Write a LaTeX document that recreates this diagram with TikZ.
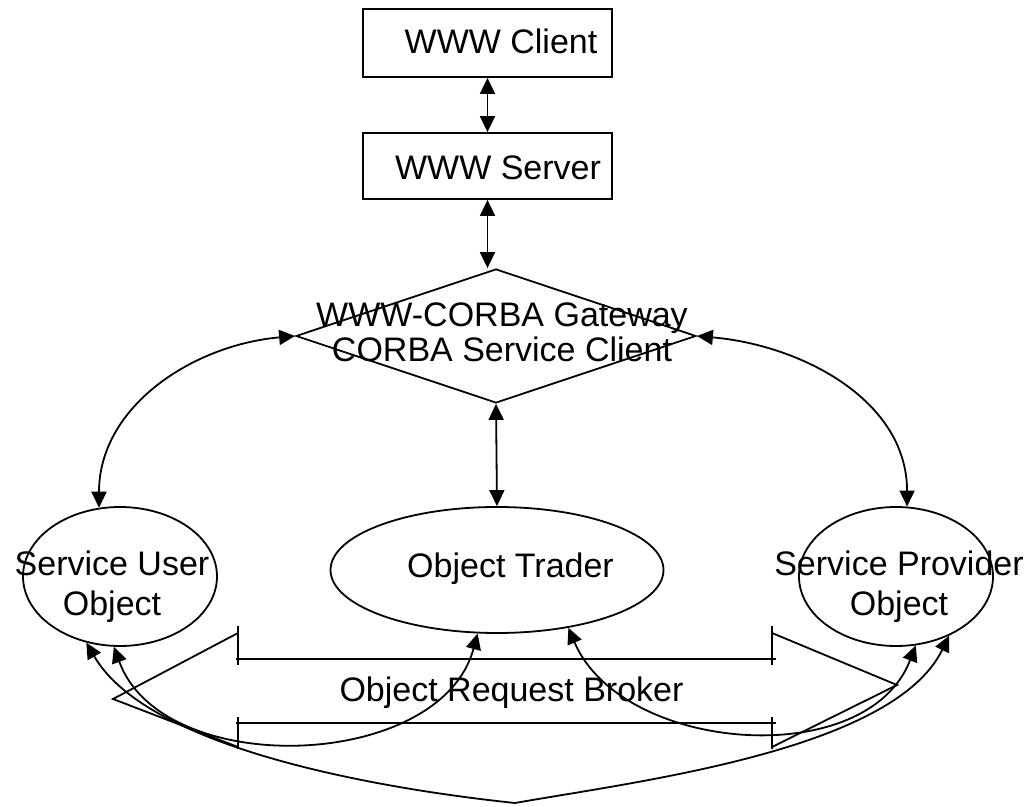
\documentclass[tikz,border=0pt]{standalone}
\usepackage{fontspec}
\setmainfont{Liberation Sans}
\usetikzlibrary{arrows.meta,shapes.geometric}
\begin{document}
\begin{tikzpicture}[x=1pt,y=1pt,line width=1.8pt,
  box/.style={draw, rectangle, minimum width=249pt, inner sep=0pt},
  ell/.style={draw, ellipse, inner sep=0pt},
  gwshape/.style={draw, diamond, minimum width=400pt, minimum height=134pt, inner sep=0pt},
  lbl/.style={font=\fontsize{34}{40}\selectfont, inner sep=0pt, anchor=base, align=center},
  biarrow/.style={{Triangle[length=16pt,width=15pt]}-{Triangle[length=16pt,width=15pt]}},
]
\useasboundingbox (0,0) rectangle (1028,806);
% shapes
\node[box, minimum height=68pt] (wc) at (487.5,763) {};
\node[box, minimum height=66pt] (ws) at (487.5,640) {};
\node[gwshape] (gw) at (496,470) {};
\node[ell, minimum width=333pt, minimum height=126pt] (ot) at (497,236) {};
\node[ell, minimum width=194pt, minimum height=139pt] (su) at (120,229.5) {};
\node[ell, minimum width=194pt, minimum height=139pt] (sp) at (896,229.5) {};
% texts (base anchor = baseline of last line)
\node[lbl] (wct) at (501,752) {WWW Client};
\node[lbl] (wst) at (498,626) {WWW Server};
\node[lbl, font=\fontsize{34}{35}\selectfont] (gwt) at (502,444) {WWW-CORBA Gateway\\CORBA Service Client};
\node[lbl] (ott) at (510.5,228) {Object Trader};
\node[lbl] (sut) at (112,190) {Service User\\Object};
\node[lbl] (spt) at (899,190) {Service Provider\\Object};
\node[lbl] (orbt) at (511.5,104) {Object Request Broker};
% ORB block arrow outline
\draw (236,147) -- (776,147);
\draw (236,83) -- (776,83);
\draw (238,180) -- (238,141);
\draw (238,89) -- (238,57);
\draw (772,180) -- (772,141);
\draw (772,89) -- (772,57);
\draw (238,173) -- (113,107) -- (238,59);
\draw (772,173) -- (897,121) -- (772,59);
% connectors
\draw[biarrow] (wc.south) -- (ws.north);
\draw[biarrow] (ws.south) -- (ws.south |- gw.north);
\draw[biarrow] (gw.south) -- (ot.north);
\draw[biarrow] (su.107) to[out=90,in=185] (gw.west);
\draw[biarrow] (gw.east) to[out=-5,in=90] (sp.81);
\draw[biarrow] (su.-95) to[out=-70,in=-105] (ot.-107);
\draw[biarrow] (ot.-39) to[out=-67,in=-111] (sp.-74);
\coordinate (vb) at (515,3);
\draw[biarrow] (su.-117) to[out=-60,in=174,looseness=0.7] (vb) to[out=10,in=-116,looseness=0.7] (sp.-48);
\end{tikzpicture}
\end{document}
